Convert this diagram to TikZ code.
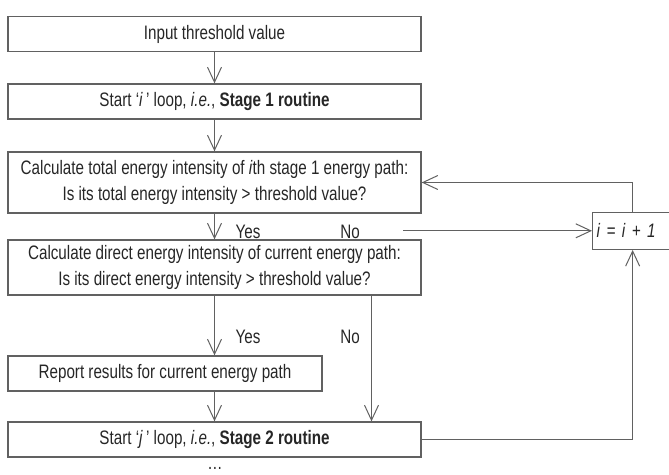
\documentclass[tikz,border=0pt]{standalone}
\usepackage{fontspec}
\setmainfont{Liberation Sans}[FakeStretch=0.78]
\usetikzlibrary{arrows.meta, positioning, calc}
\definecolor{linegray}{gray}{0.38}

\begin{document}
\begin{tikzpicture}[x = 1pt, y = -1pt,
    box/.style = {draw=linegray, line width=1.3pt, rectangle, minimum height=35pt,
                  inner sep=2pt, align=center, font=\fontsize{19.5}{26}\selectfont, text=black!85},
    arr/.style = {draw=linegray, line width=1.3pt,
                  -{Straight Barb[length=15pt, width=14pt, line width=1pt]}},
    lbl/.style = {font=\fontsize{19.5}{26}\selectfont, text=black!85}]

    \useasboundingbox (0,0) rectangle (669,474);

    % Blocchi principali
    \node[box, minimum width=413pt] (input) at (214.5,34) {Input threshold value};
    \node[box, minimum width=413pt] (iloop) at (214.5,101.5)
        {Start ‘\textit{i}\,’ loop, \textit{i.e.}, \textbf{Stage 1 routine}};
    \node[box, minimum width=413pt, minimum height=61pt] (total) at (214.5,182.5)
        {Calculate total energy intensity of \textit{i}th stage 1 energy path:\\
         Is its total energy intensity > threshold value?};
    \node[box, minimum width=413pt, minimum height=55pt] (direct) at (214.5,267.5)
        {Calculate direct energy intensity of current energy path:\\
         Is its direct energy intensity > threshold value?};
    \node[box, minimum width=314pt] (report) at (165,373.5)
        {Report results for current energy path};
    \node[box, minimum width=413pt] (jloop) at (214.5,439.5)
        {Start ‘\textit{j}\,’ loop, \textit{i.e.}, \textbf{Stage 2 routine}};

    % Contatore i
    \node[box, anchor=west, minimum width=80pt, minimum height=37pt,
          text width=72pt, align=left] (incr) at (592,230.8) {\textit{i = i + 1}};

    % Etichette Yes / No
    \node[lbl] (yes1) at (248,232) {Yes};
    \node[lbl] (no1) at (350,232) {No};
    \node[lbl] (yes2) at (248,337) {Yes};
    \node[lbl] (no2) at (350,337) {No};
    \node[lbl] (dots) at (215,468) {\dots};
    \coordinate (nostart) at (403,230.8);

    % Frecce
    \draw[arr] (input) -- (iloop);
    \draw[arr] (iloop) -- (total);
    \draw[arr] (total) -- (direct);
    \draw[arr] (nostart) -- (incr.west);
    \draw[arr] (direct.south) -- (direct.south |- report.north);
    \draw[arr] ([xshift=157pt]direct.south) -- ([xshift=157pt]jloop.north);
    \draw[arr] (report.south -| jloop.north) -- (jloop.north);

    % Ciclo di ritorno
    \draw[arr] (jloop.east) -| (incr.south);
    \draw[arr] (incr.north) |- (total.east);

\end{tikzpicture}
\end{document}
